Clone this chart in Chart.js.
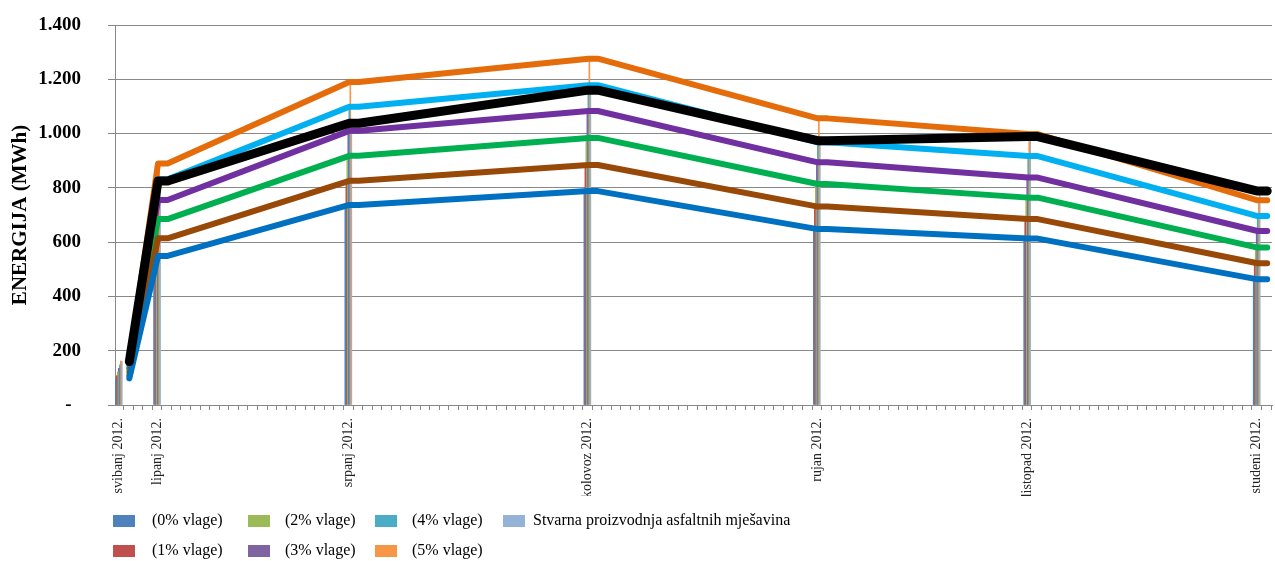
<!DOCTYPE html>
<html lang="hr">
<head>
<meta charset="utf-8"/>
<script src="https://cdn.jsdelivr.net/npm/chart.js@4.4.1/dist/chart.umd.min.js"></script>
<style>
    body { margin: 0; background: #ffffff; }
    #wrap { width: 1275px; height: 561px; }
</style>
</head>
<body>
<div id="wrap"><canvas id="chart" width="1275" height="561"></canvas></div>
<script>
// months on the x axis and where each one sits on the (uneven) axis
const months = ['svibanj 2012.', 'lipanj 2012.', 'srpanj 2012.', 'kolovoz 2012.', 'rujan 2012.', 'listopad 2012.', 'studeni 2012.'];
const monthPos = [0, 4, 24, 49, 73, 95, 119];

const seriesNames = ['(0% vlage)', '(1% vlage)', '(2% vlage)', '(3% vlage)', '(4% vlage)', '(5% vlage)',
                     'Stvarna proizvodnja asfaltnih mješavina'];

// energy, MWh
const vlaga0  = [98, 549, 737, 788, 648, 613, 463];
const vlaga1  = [108, 614, 826, 884, 731, 685, 522];
const vlaga2  = [122, 685, 918, 984, 814, 764, 580];
const vlaga3  = [135, 755, 1010, 1083, 894, 838, 641];
const vlaga4  = [148, 832, 1099, 1178, 968, 917, 696];
const vlaga5  = [162, 890, 1190, 1276, 1056, 998, 754];
const stvarna = [160, 825, 1038, 1160, 974, 989, 788];

const yTicks = [0, 200, 400, 600, 800, 1000, 1200, 1400];

const barColors  = ['#4F81BD', '#C0504D', '#9BBB59', '#8064A2', '#4BACC6', '#F79646', '#95B3D7'];
const lineColors = ['#0070C0', '#984807', '#00B050', '#7030A0', '#00B0F0', '#E46C0A', '#000000'];

const allSeries = [vlaga0, vlaga1, vlaga2, vlaga3, vlaga4, vlaga5, stvarna];

const SERIF = "'Liberation Serif', 'Times New Roman', serif";
const GRID = '#888888';

function barPoints(values) {
    return values.map((v, i) => ({x: monthPos[i], y: v}));
}
// the lines in the original hold each value over a short step before moving on
function linePoints(values) {
    const pts = [];
    values.forEach((v, i) => {
        if (i > 0) pts.push({x: monthPos[i] + 0.1, y: v});
        pts.push({x: monthPos[i] + 1.1, y: v});
    });
    return pts;
}

const datasets = [];
allSeries.forEach((values, k) => {
    datasets.push({
        type: 'line',
        label: seriesNames[k],
        data: linePoints(values),
        borderColor: lineColors[k],
        backgroundColor: lineColors[k],
        borderWidth: k === 6 ? 9 : 6,
        borderCapStyle: 'round',
        borderJoinStyle: 'round',
        pointRadius: 0,
        tension: 0,
        order: k === 6 ? 0 : 1
    });
});
allSeries.forEach((values, k) => {
    datasets.push({
        type: 'bar',
        label: seriesNames[k],
        data: barPoints(values),
        backgroundColor: barColors[k],
        barThickness: 1,
        order: 2
    });
});

// excel style legend: two rows, filled column by column
const excelLegend = {
    id: 'excelLegend',
    afterDraw(chart, args, opts) {
        const ctx = chart.ctx;
        const bars = chart.data.datasets.filter(d => d.type === 'bar');
        ctx.save();
        ctx.font = '16px ' + SERIF;
        ctx.textBaseline = 'middle';
        ctx.textAlign = 'left';
        bars.forEach((d, i) => {
            const col = Math.floor(i / 2), row = i % 2;
            const y = opts.rowY[row];
            ctx.fillStyle = d.backgroundColor;
            ctx.fillRect(opts.boxX[col], y - 6, 22, 12);
            ctx.fillStyle = '#000000';
            ctx.fillText(d.label, opts.textX[col], y);
        });
        ctx.restore();
    }
};

function thousands(v) {
    return String(v).replace(/\B(?=(\d{3})+(?!\d))/g, '.');
}

new Chart(document.getElementById('chart'), {
    type: 'bar',
    data: {datasets: datasets},
    plugins: [excelLegend],
    options: {
        responsive: false,
        animation: false,
        layout: {padding: {left: 4, top: 25, right: 3, bottom: 65}},
        plugins: {
            legend: {display: false},
            tooltip: {enabled: false},
            excelLegend: {boxX: [113, 248, 375, 503], textX: [152, 285, 412, 533], rowY: [521, 551]}
        },
        scales: {
            x: {
                type: 'linear',
                min: -0.4,
                max: 120.6,
                offset: false,
                afterBuildTicks: (scale) => {
                    const t = [];
                    for (let i = 0; i <= 120; i++) t.push({value: i});
                    scale.ticks = t;
                },
                afterFit: (scale) => {
                    scale.height = 91;
                    scale.paddingLeft = 0;
                    scale.paddingRight = 0;
                },
                grid: {drawOnChartArea: false, color: GRID, tickLength: 5},
                border: {color: GRID},
                ticks: {
                    autoSkip: false,
                    maxRotation: 90,
                    minRotation: 90,
                    padding: 8,
                    color: '#222222',
                    font: {family: SERIF, size: 14},
                    callback: (value) => {
                        const i = monthPos.indexOf(value);
                        return i >= 0 ? months[i] : '';
                    }
                }
            },
            y: {
                min: 0,
                max: 1400,
                afterBuildTicks: (scale) => { scale.ticks = yTicks.map(v => ({value: v})); },
                afterFit: (scale) => {
                    scale.width = 111;
                    scale.paddingTop = 12;
                    scale.paddingBottom = 12;
                },
                grid: {color: GRID, tickLength: 7},
                border: {color: GRID},
                title: {
                    display: true,
                    text: 'ENERGIJA (MWh)',
                    color: '#000000',
                    font: {family: SERIF, size: 21, weight: 'bold'},
                    padding: {top: 4, bottom: 4}
                },
                ticks: {
                    padding: 27,
                    color: '#000000',
                    font: {family: SERIF, size: 19, weight: 'bold'},
                    callback: (v) => v === 0 ? '-  ' : thousands(v)
                }
            }
        }
    }
});
</script>
</body>
</html>
